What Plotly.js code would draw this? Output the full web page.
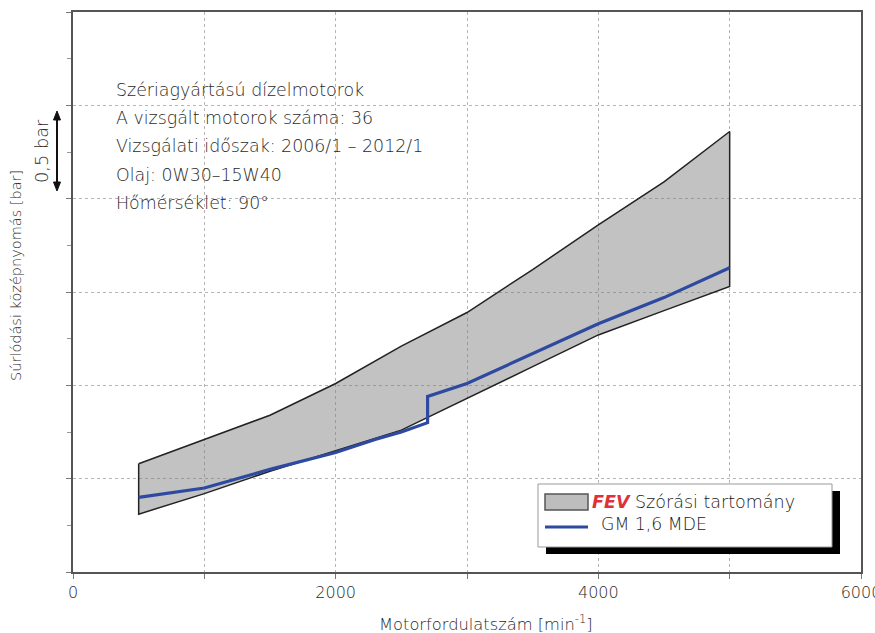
<!DOCTYPE html>
<html>
<head>
<meta charset="utf-8">
<script src="https://cdn.plot.ly/plotly-3.0.1.min.js"></script>
<style>html,body{margin:0;padding:0;background:#fff;}#chart{width:875px;height:633px;}</style>
</head>
<body>
<div id="chart"></div>
<script>
// ---- data ----
var bandX = [500, 1000, 1500, 2000, 2500, 3000, 3500, 4000, 4500, 5000];
var bandUpper = [0.58, 0.71, 0.84, 1.01, 1.21, 1.39, 1.62, 1.86, 2.09, 2.36];
var bandLower = [0.31, 0.42, 0.54, 0.65, 0.76, 0.93, 1.10, 1.27, 1.40, 1.53];
var gmX = [500, 1000, 1500, 2000, 2300, 2500, 2700, 2700, 3000, 3500, 4000, 4500, 5000];
var gmY = [0.40, 0.45, 0.55, 0.64, 0.71, 0.75, 0.80, 0.94, 1.01, 1.17, 1.33, 1.47, 1.63];
var xTickVals = [0, 2000, 4000, 6000];
var xTickText = ['0', '2000', '4000', '6000'];
var infoLines = ['Szériagyártású dízelmotorok', 'A vizsgált motorok száma: 36',
  'Vizsgálati időszak: 2006/1 – 2012/1', 'Olaj: 0W30–15W40', 'Hőmérséklet: 90°'];
var bandName = 'Szórási tartomány';
var gmName = 'GM 1,6 MDE';
var xTitle = 'Motorfordulatszám [min<sup>-1</sup>]';
var yTitle = 'Súrlódási középnyomás [bar]';
var scaleLabel = '0,5 bar';

// ---- layout helpers (pixel -> paper) ----
var L = 73, R = 861, T = 12, B = 572;
function px(x) { return (x - L) / (R - L); }
function py(y) { return (B - y) / (B - T); }

var polyX = bandX.concat(bandX.slice().reverse(), [bandX[0]]);
var polyY = bandUpper.concat(bandLower.slice().reverse(), [bandUpper[0]]);

var traces = [
  {x: polyX, y: polyY, type: 'scatter', mode: 'lines', fill: 'toself',
   fillcolor: 'rgba(120,120,120,0.45)', line: {color: '#222', width: 1.5},
   name: bandName, showlegend: false, hoverinfo: 'skip'},
  {x: gmX, y: gmY, type: 'scatter', mode: 'lines',
   line: {color: '#2d4aa0', width: 3.2}, name: gmName, showlegend: false}
];

var font = '"DejaVu Sans", "Open Sans", sans-serif';
var txtCol = '#2a2a2a';
function f(size, col) { return {family: font, size: size, color: col || txtCol, weight: 300}; }

var annotations = [];
infoLines.forEach(function (t, i) {
  annotations.push({xref: 'paper', yref: 'paper', x: px(114), y: py(90 + i * 28.2),
    xanchor: 'left', yanchor: 'middle', showarrow: false, text: t, font: f(17.4)});
});
annotations.push({xref: 'paper', yref: 'paper', x: px(41), y: py(151), textangle: -90,
  xanchor: 'center', yanchor: 'middle', showarrow: false, text: scaleLabel, font: f(17.8)});
annotations.push({xref: 'paper', yref: 'paper', x: px(486), y: py(623),
  xanchor: 'center', yanchor: 'middle', showarrow: false, text: xTitle, font: f(16.3)});
annotations.push({xref: 'paper', yref: 'paper', x: px(16), y: py(276), textangle: -90,
  xanchor: 'center', yanchor: 'middle', showarrow: false, text: yTitle, font: f(14.5)});
// legend texts
annotations.push({xref: 'paper', yref: 'paper', x: px(590), y: py(502),
  xanchor: 'left', yanchor: 'middle', showarrow: false,
  text: '<b><i><span style="color:#e0303a">FEV</span></i></b> ' + bandName,
  font: f(17.5, '#1a1a1a')});
annotations.push({xref: 'paper', yref: 'paper', x: px(599), y: py(524),
  xanchor: 'left', yanchor: 'middle', showarrow: false, text: gmName, font: f(17.3, '#1a1a1a')});

function tri(xc, ytip, ybase, hw) {
  return 'M ' + px(xc) + ' ' + py(ytip) + ' L ' + px(xc - hw) + ' ' + py(ybase) +
         ' L ' + px(xc + hw) + ' ' + py(ybase) + ' Z';
}

var shapes = [
  {type: 'rect', xref: 'paper', yref: 'paper', x0: px(100), x1: px(432), y0: py(60), y1: py(228),
   fillcolor: '#ffffff', line: {width: 0}, layer: 'between'},
  {type: 'line', xref: 'paper', yref: 'paper', x0: px(57), x1: px(57), y0: py(118), y1: py(184),
   line: {color: '#111', width: 2}},
  {type: 'path', xref: 'paper', yref: 'paper', path: tri(57, 111, 120, 3.5),
   fillcolor: '#111', line: {color: '#111', width: 1}},
  {type: 'path', xref: 'paper', yref: 'paper', path: tri(57, 191, 182, 3.5),
   fillcolor: '#111', line: {color: '#111', width: 1}},
  {type: 'rect', xref: 'paper', yref: 'paper', x0: px(546), x1: px(840), y0: py(491), y1: py(554),
   fillcolor: '#000000', line: {width: 0}, layer: 'above'},
  {type: 'rect', xref: 'paper', yref: 'paper', x0: px(538), x1: px(832), y0: py(484), y1: py(547),
   fillcolor: '#ffffff', line: {color: '#999', width: 1}, layer: 'above'},
  {type: 'rect', xref: 'paper', yref: 'paper', x0: px(545), x1: px(588), y0: py(494), y1: py(510),
   fillcolor: '#bdbdbd', line: {color: '#555', width: 1.5}, layer: 'above'},
  {type: 'line', xref: 'paper', yref: 'paper', x0: px(545), x1: px(588), y0: py(527), y1: py(527),
   line: {color: '#2d4aa0', width: 3.2}, layer: 'above'}
];

var layout = {
  width: 875, height: 633,
  margin: {l: L, r: 875 - R, t: T, b: 633 - B, pad: 0},
  paper_bgcolor: '#ffffff', plot_bgcolor: '#ffffff',
  showlegend: false,
  font: {family: font, color: txtCol},
  xaxis: {
    range: [0, 6000], tickvals: xTickVals, ticktext: xTickText,
    ticklabeloverflow: 'allow',
    showgrid: true, gridcolor: '#b5b5b5', griddash: 'dot', gridwidth: 1,
    minor: {dtick: 1000, tick0: 0, showgrid: true, gridcolor: '#b5b5b5', griddash: 'dot',
            ticks: 'outside', ticklen: 5, tickcolor: '#777'},
    showline: true, linecolor: '#555', linewidth: 2, mirror: true,
    ticks: 'outside', ticklen: 5, tickcolor: '#777', tickwidth: 1,
    zeroline: false,
    tickfont: f(16, '#2a2a2a')
  },
  yaxis: {
    range: [0, 3], dtick: 0.5, tick0: 0, showticklabels: false,
    showgrid: true, gridcolor: '#b5b5b5', griddash: 'dot', gridwidth: 1,
    showline: true, linecolor: '#555', linewidth: 2, mirror: true,
    ticks: 'outside', ticklen: 5, tickcolor: '#777', tickwidth: 1,
    minor: {dtick: 0.25, ticks: 'outside', ticklen: 4, tickcolor: '#999', showgrid: false},
    zeroline: false
  },
  annotations: annotations,
  shapes: shapes
};

Plotly.newPlot('chart', traces, layout, {displayModeBar: false, staticPlot: true});
</script>
</body>
</html>
